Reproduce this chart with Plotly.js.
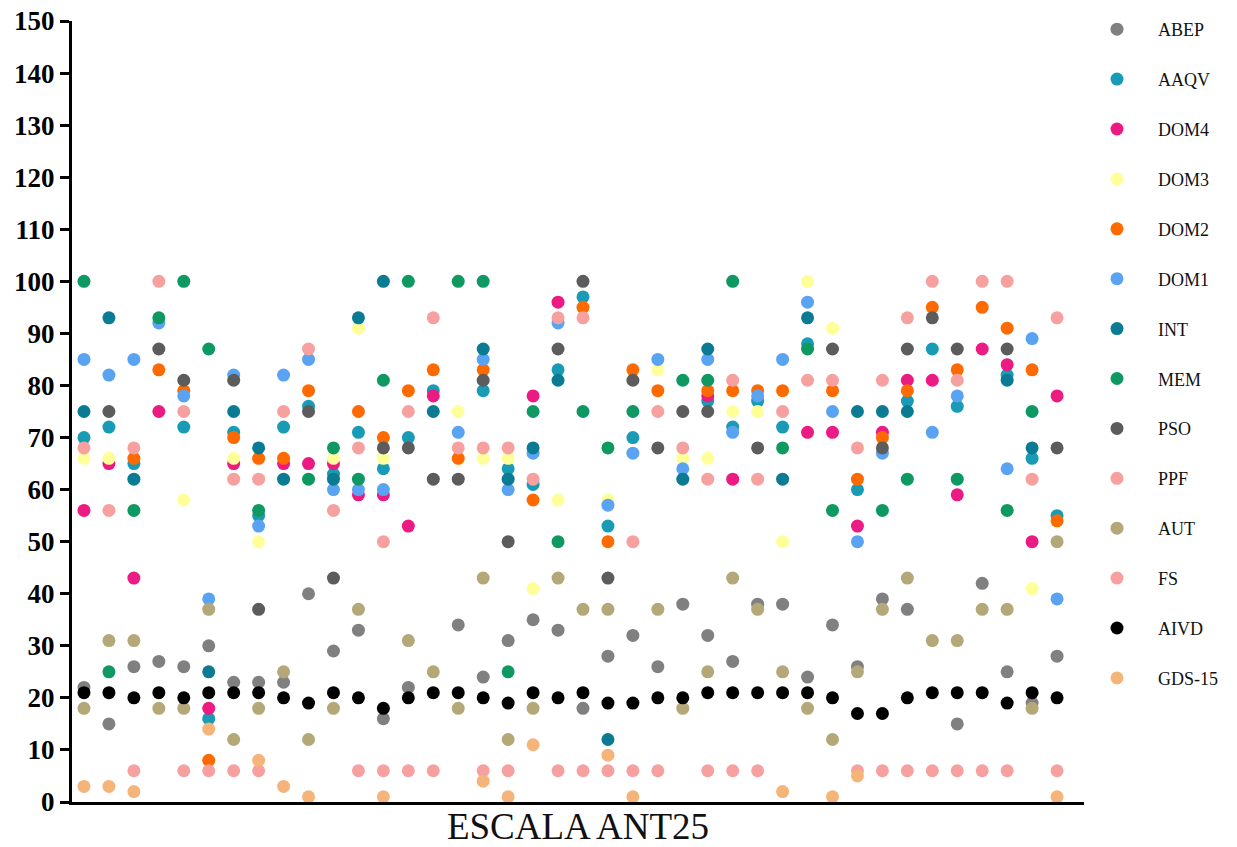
<!DOCTYPE html>
<html>
<head>
<meta charset="utf-8">
<script src="https://cdn.plot.ly/plotly-3.0.1.min.js"></script>
<style>html,body{margin:0;padding:0;background:#fff;}#chart{width:1237px;height:847px;}</style>
</head>
<body>
<div id="chart"></div>
<script>
const columns = Array.from({length: 40}, (_, i) => i + 1);
const seriesNames = ["ABEP","AAQV","DOM4","DOM3","DOM2","DOM1","INT","MEM","PSO","PPF","AUT","FS","AIVD","GDS-15"];
const seriesColors = ["#808080","#1a9bb5","#ec1a83","#ffff99","#ff6a00","#5aa2f2","#0a7b92","#0f9962","#5c5c5c","#f6a0a0","#b4a878","#f6a0a0","#000000","#f5b47a"];

const ABEP = [22,15,26,27,26,30,23,23,23,40,29,33,16,22,null,34,24,31,35,33,18,28,32,26,38,32,27,38,38,24,34,26,39,37,null,15,42,25,19,28];
const AAQV = [70,72,65,null,72,16,71,55,72,76,63,71,64,70,79,null,79,64,61,83,97,53,70,null,null,77,72,77,72,88,null,60,null,77,87,76,null,82,66,55];
const DOM4 = [56,65,43,75,null,18,65,null,65,65,65,59,59,53,78,null,null,null,78,96,null,null,null,null,null,78,62,null,null,71,71,53,71,81,81,59,87,84,50,78];
const DOM3 = [66,66,null,null,58,null,66,50,null,null,66,91,66,null,null,75,66,66,41,58,null,58,null,83,66,66,75,75,50,100,91,null,null,null,null,null,null,null,41,null];
const DOM2 = [null,null,66,83,79,8,70,66,66,79,null,75,70,79,83,66,83,null,58,null,95,50,83,79,null,79,79,79,79,null,79,62,70,79,95,83,95,91,83,54];
const DOM1 = [85,82,85,92,78,39,82,53,82,85,60,60,60,null,null,71,85,60,67,92,null,57,67,85,64,85,71,78,85,96,75,50,67,null,71,78,null,64,89,39];
const INT = [75,93,62,null,null,25,75,68,62,null,62,93,100,null,75,null,87,62,68,81,null,12,null,null,62,87,null,null,62,93,null,75,75,75,null,null,null,81,68,null];
const MEM = [100,25,56,93,100,87,null,56,null,62,68,62,81,100,null,100,100,25,75,50,75,68,75,null,81,81,100,null,68,87,56,null,56,62,null,62,null,56,75,null];
const PSO = [null,75,null,87,81,null,81,37,null,75,43,null,68,68,62,62,81,50,null,87,100,43,81,68,75,75,null,68,null,null,87,null,68,87,93,87,null,87,null,68];
const PPF = [68,56,68,100,75,null,62,62,75,87,56,68,50,75,93,68,68,68,62,93,93,null,50,75,68,62,81,62,75,81,81,68,81,93,100,81,100,100,62,93];
const AUT = [18,31,31,18,18,37,12,18,25,12,18,37,null,31,25,18,43,12,18,43,37,37,null,37,18,25,43,37,25,18,12,25,37,43,31,31,37,37,18,50];
const FS = [null,null,6,null,6,6,6,6,null,null,null,6,6,6,6,null,6,6,null,6,6,6,6,6,null,6,6,6,null,null,null,6,6,6,6,6,6,6,null,6];
const AIVD = [21,21,20,21,20,21,21,21,20,19,21,20,18,20,21,21,20,19,21,20,21,19,19,20,20,21,21,21,21,21,20,17,17,20,21,21,21,19,21,20];
const GDS15 = [3,3,2,null,null,14,null,8,3,1,null,null,1,null,null,null,4,1,11,null,null,9,1,null,null,null,null,null,2,null,1,5,null,null,null,null,null,null,null,1];

const seriesValues = [ABEP,AAQV,DOM4,DOM3,DOM2,DOM1,INT,MEM,PSO,PPF,AUT,FS,AIVD,GDS15];
const yTickValues = [0,10,20,30,40,50,60,70,80,90,100,110,120,130,140,150];

const traces = seriesNames.map((name, i) => ({
  type: 'scatter',
  mode: 'markers',
  name: name,
  legendgroup: 'g' + i,
  x: columns,
  y: seriesValues[i],
  marker: {size: 13, color: seriesColors[i], line: {width: 0}},
  cliponaxis: false,
  hoverinfo: 'x+y+name'
}));

const layout = {
  width: 1237,
  height: 847,
  paper_bgcolor: '#ffffff',
  plot_bgcolor: '#ffffff',
  margin: {l: 72, r: 153, t: 21, b: 45, pad: 0, autoexpand: false},
  showlegend: true,
  legend: {
    xref: 'container', yref: 'container',
    x: 1076/1237, y: 1 - 11/847, xanchor: 'left', yanchor: 'top',
    font: {family: 'Liberation Serif, Times New Roman, serif', size: 18, color: '#111'},
    tracegroupgap: 23.5,
    itemwidth: 72,
    maxheight: 840,
    bgcolor: 'rgba(0,0,0,0)',
    itemclick: false, itemdoubleclick: false
  },
  xaxis: {
    range: [0.52, 41.08],
    showgrid: false, zeroline: false,
    showline: true, linecolor: '#000', linewidth: 3,
    ticks: '', showticklabels: false,
    title: {text: 'ESCALA ANT25', font: {family: 'Liberation Serif, Times New Roman, serif', size: 37, color: '#111'}, standoff: 16},
    automargin: false,
    fixedrange: true
  },
  yaxis: {
    range: [0, 150],
    tickvals: yTickValues,
    ticktext: yTickValues.map(String),
    showgrid: false, zeroline: false,
    showline: true, linecolor: '#000', linewidth: 3,
    ticks: 'outside', ticklen: 9, tickwidth: 3, tickcolor: '#000',
    tickfont: {family: 'Liberation Serif, Times New Roman, serif', size: 27, color: '#000', weight: 'bold'},
    automargin: false,
    fixedrange: true
  }
};

Plotly.newPlot('chart', traces, layout, {displayModeBar: false, staticPlot: true});
</script>
</body>
</html>
